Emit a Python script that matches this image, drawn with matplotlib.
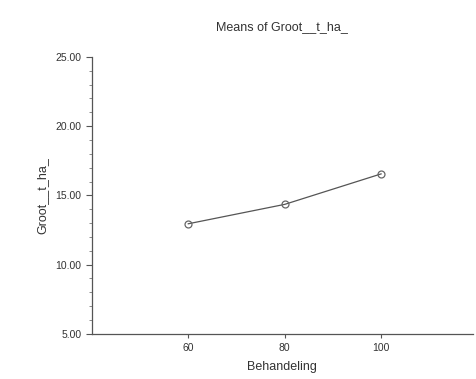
import matplotlib
matplotlib.use("Agg")
import matplotlib.pyplot as plt
from matplotlib.ticker import MultipleLocator, FormatStrFormatter

# data
behandeling = [60, 80, 100]
groot_means = [12.95, 14.35, 16.55]

plt.rcParams['font.family'] = ['Liberation Sans', 'DejaVu Sans']

fig = plt.figure(figsize=(4.76, 3.79), dpi=100)
ax = fig.add_axes([0.193, 0.119, 0.80, 0.731])

ax.plot(behandeling, groot_means, color='#555555', linewidth=0.9,
        marker='o', markersize=5, markerfacecolor='none',
        markeredgecolor='#666666', markeredgewidth=0.9)

ax.set_xlim(40, 119)
ax.set_ylim(5, 25)
ax.set_xticks(behandeling)
ax.yaxis.set_major_locator(MultipleLocator(5))
ax.yaxis.set_minor_locator(MultipleLocator(1))
ax.yaxis.set_major_formatter(FormatStrFormatter('%.2f'))

for s in ['top', 'right']:
    ax.spines[s].set_visible(False)
for s in ['left', 'bottom']:
    ax.spines[s].set_color('#555555')
    ax.spines[s].set_linewidth(0.9)

ax.tick_params(axis='both', colors='#555555', labelcolor='#333333', labelsize=7.5, width=0.8)
ax.tick_params(axis='y', which='major', length=4)
ax.tick_params(axis='y', which='minor', length=2.5, color='#777777')
ax.tick_params(axis='x', length=3)

ax.set_xlabel('Behandeling', fontsize=9, color='#333333', labelpad=6)
ax.set_ylabel('Groot__t_ha_', fontsize=9, color='#333333', labelpad=5)
ax.set_title('Means of Groot__t_ha_', fontsize=9, color='#333333', pad=19)

fig.savefig('out.png', dpi=100)
